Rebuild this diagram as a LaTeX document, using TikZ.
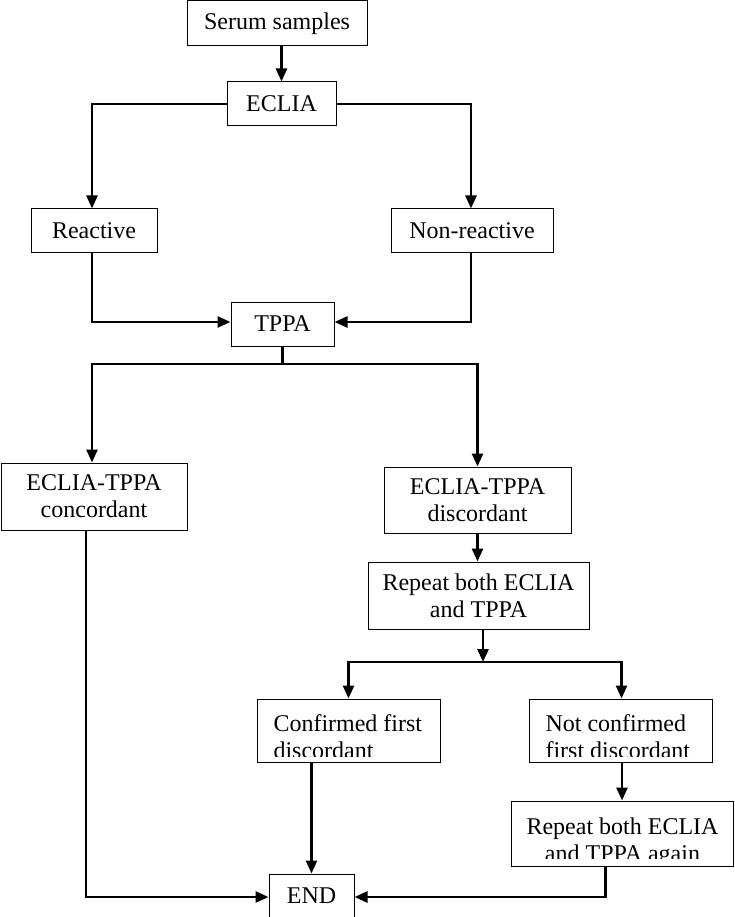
\documentclass[tikz,border=0pt]{standalone}
\usepackage{fontspec}
\setmainfont{Liberation Serif}
\usetikzlibrary{arrows.meta}

\tikzset{
	box/.style={draw, line width=1pt, inner sep=0pt, align=center, font=\fontsize{24}{27}\selectfont},
	txt/.style={inner sep=0pt, minimum width=0pt, minimum height=0pt, font=\fontsize{24}{27}\selectfont},
	link/.style={line width=2.6pt},
	arr/.style={link, -{Triangle[length=13pt,width=11pt]}},
	leftcut/.style={box, path picture={
			\clip (path picture bounding box.north west) rectangle ([yshift=6pt]path picture bounding box.south east);
			\node[txt, align=left, anchor=north west] at ([xshift=16pt, yshift=-15pt]path picture bounding box.north west) {#1};}},
	midcut/.style={box, path picture={
			\clip (path picture bounding box.north west) rectangle ([yshift=8pt]path picture bounding box.south east);
			\node[txt, align=center, anchor=north] at ([yshift=-16pt]path picture bounding box.north) {#1};}}
}

\begin{document}
\begin{tikzpicture}[x=1pt, y=-1pt]
			\useasboundingbox (0,0) rectangle (735,917);

			\draw node[box, minimum width=180, minimum height=45] (serum) at (277,23.5) {Serum samples};
			\draw node[box, minimum width=109, minimum height=44] (eclia) at (281.5,104) {ECLIA};
			\draw node[box, minimum width=126, minimum height=43] (reac) at (94,230.5) {Reactive};
			\draw node[box, minimum width=162, minimum height=43] (nonreac) at (472,230.5) {Non-reactive};
			\draw node[box, minimum width=103, minimum height=44] (tppa) at (282.5,324) {TPPA};
			\draw node[box, minimum width=186, minimum height=67] (conc) at (94,496.5) {ECLIA-TPPA\\concordant};
			\draw node[box, minimum width=187, minimum height=66] (disc) at (477.5,500) {ECLIA-TPPA\\discordant};
			\draw node[box, minimum width=221, minimum height=67] (rep) at (478.5,595.5) {Repeat both ECLIA\\and TPPA};
			\draw node[leftcut={Confirmed first\\discordant}, minimum width=183, minimum height=63] (conf) at (348.5,730.5) {};
			\draw node[leftcut={Not confirmed\\first discordant}, minimum width=183, minimum height=63] (notconf) at (620.5,730.5) {};
			\draw node[midcut={Repeat both ECLIA\\and TPPA again}, minimum width=222, minimum height=65] (repagain) at (622.5,833.5) {};
			\draw node[box, minimum width=85, minimum height=43] (end) at (311.5,895.5) {END};

			\coordinate (split1) at (282.5,364);
			\coordinate (split2) at (483,662);

			\draw[arr] (serum.south -| eclia.north) -- (eclia.north);
			\draw[arr] (eclia.west) -| ([xshift=-2pt]reac.north);
			\draw[arr] (eclia.east) -| ([xshift=-1pt]nonreac.north);
			\draw[arr] ([xshift=-2pt]reac.south) |- ([yshift=2pt]tppa.west);
			\draw[arr] ([xshift=-1pt]nonreac.south) |- ([yshift=2pt]tppa.east);
			\draw[link] (tppa.south) -- (split1);
			\draw[arr] (split1) -| ([xshift=-2pt]conc.north);
			\draw[arr] (split1) -| (disc.north);
			\draw[arr] (disc.south) -- (disc.south |- rep.north);
			\draw[arr] (rep.south -| split2) -- (split2);
			\draw[arr] (split2) -| (conf.north);
			\draw[arr] (split2) -| ([xshift=1pt]notconf.north);
			\draw[arr] ([xshift=1.5pt]notconf.south) -- ([xshift=1.5pt]notconf.south |- repagain.north);
			\draw[arr] ([xshift=-8pt]conc.south) |- ([yshift=-1.5pt]end.west);
			\draw[arr] (conf.south -| end.north) -- (end.north);
			\draw[arr] ([xshift=-17pt]repagain.south) |- ([yshift=-1.5pt]end.east);
		\end{tikzpicture}
\end{document}
